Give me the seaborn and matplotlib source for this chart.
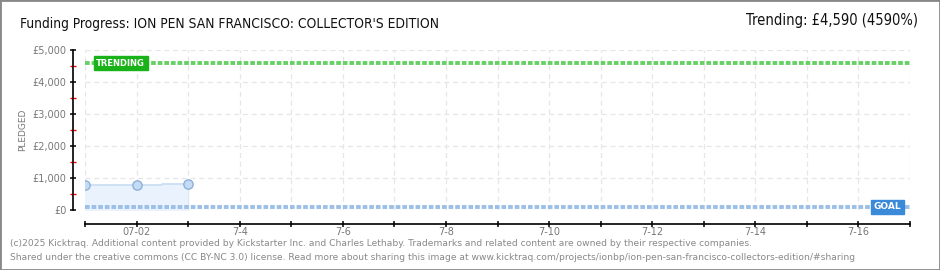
import numpy as np
import pandas as pd
import seaborn as sns
import matplotlib.pyplot as plt
from matplotlib.ticker import MultipleLocator, FuncFormatter
from matplotlib.patches import Rectangle

# data
day = [0, 1, 2]                 # days since 7-1
pledged = [780, 785, 800]
goal = 100
trending = 4590
tick_days = [1, 3, 5, 7, 9, 11, 13, 15]
tick_labels = ['07-02', '7-4', '7-6', '7-8', '7-10', '7-12', '7-14', '7-16']

df = pd.DataFrame({'day': day, 'pledged': pledged})

sns.set_theme(style='white')
plt.rcParams['font.family'] = ['DejaVu Sans']

W, H = 940, 270
fig = plt.figure(figsize=(W / 100, H / 100), dpi=100)
ax = fig.add_axes([85 / W, (H - 210) / H, 825 / W, 160 / H])

grey = '#777777'

# grid
for d in range(0, 17):
    ax.axvline(d, color='#e6e6e6', lw=0.9, ls=(0, (4, 3)), zorder=0)
for v in range(0, 5001, 1000):
    ax.axhline(v, color='#e6e6e6', lw=0.9, ls=(0, (4, 3)), zorder=0)

# pledged area
ax.fill_between(df['day'], df['pledged'], step='mid', color='#eaf3fd', zorder=1)
ax.axvline(2, ymax=0.16, color='#dde8f5', lw=0.8, zorder=1)
ax.step(df['day'], df['pledged'], where='mid', color='#c8ddf3', lw=1.2, zorder=2)
sns.scatterplot(data=df, x='day', y='pledged', ax=ax, s=45, color='#c3dbf5',
                edgecolor='#8fb0d8', linewidth=1, zorder=4, legend=False)

# goal and trending lines
ax.axhline(goal, color='#9bbfe6', lw=2.8, ls=(0, (1.2, 0.5)), zorder=3)
ax.axhline(trending, color='#66d066', lw=2.8, ls=(0, (1.2, 0.5)), zorder=3)

ax.text(0.22, trending, 'TRENDING', fontsize=6, color='white', fontweight='bold',
        va='center', ha='left', zorder=6,
        bbox=dict(boxstyle='square,pad=0.3', fc='#19b319', ec='#19b319'))
ax.text(15.3, goal, 'GOAL', fontsize=6.5, color='white', fontweight='bold',
        va='center', ha='left', zorder=6,
        bbox=dict(boxstyle='square,pad=0.3', fc='#3b8ad9', ec='#3b8ad9'))

ax.set_xlim(0, 16)
ax.set_ylim(0, 5000)

# axes styling
for s in ['top', 'right']:
    ax.spines[s].set_visible(False)
ax.spines['left'].set_position(('outward', 9))
ax.spines['bottom'].set_position(('outward', 10))
for s in ['left', 'bottom']:
    ax.spines[s].set_color('black')
    ax.spines[s].set_linewidth(1.2)

ax.yaxis.set_major_locator(MultipleLocator(1000))
ax.yaxis.set_minor_locator(MultipleLocator(500))
ax.yaxis.set_major_formatter(FuncFormatter(lambda v, p: f'£{int(v):,}'))
ax.tick_params(axis='y', which='major', direction='inout', length=4.5, width=1.1,
               color='black', labelsize=7, labelcolor=grey, pad=2, left=True)
ax.tick_params(axis='y', which='minor', direction='inout', length=4, width=1,
               color='red', left=True)

ax.set_xticks(range(0, 17))
ax.set_xticklabels(['' if d not in tick_days else tick_labels[tick_days.index(d)]
                    for d in range(0, 17)])
ax.tick_params(axis='x', which='major', direction='inout', length=4, width=1.1,
               color='black', labelsize=7, labelcolor=grey, pad=0.5, bottom=True)

ax.set_xlabel('')
ax.set_ylabel('PLEDGED', fontsize=6.5, color=grey, labelpad=4)

# texts
fig.text(20 / W, 1 - 24 / H, "Funding Progress: ION PEN SAN FRANCISCO: COLLECTOR'S EDITION",
         fontsize=9.9, color='#111111', va='center', ha='left', stretch='condensed')
fig.text(918 / W, 1 - 21 / H, 'Trending: £4,590 (4590%)', fontsize=10.5,
         color='#111111', va='center', ha='right', stretch='condensed')
fig.text(10 / W, 1 - 243 / H,
         '(c)2025 Kicktraq. Additional content provided by Kickstarter Inc. and Charles Lethaby. '
         'Trademarks and related content are owned by their respective companies.',
         fontsize=6.6, color='#888888', va='center', ha='left')
fig.text(10 / W, 1 - 257 / H,
         'Shared under the creative commons (CC BY-NC 3.0) license. Read more about sharing this image at '
         'www.kicktraq.com/projects/ionbp/ion-pen-san-francisco-collectors-edition/#sharing',
         fontsize=6.6, color='#888888', va='center', ha='left')

# outer frame
fig.patches.append(Rectangle((0, 0), 1, 1, transform=fig.transFigure, fill=False,
                             ec='#888888', lw=2))

fig.savefig('out.png', dpi=100)
